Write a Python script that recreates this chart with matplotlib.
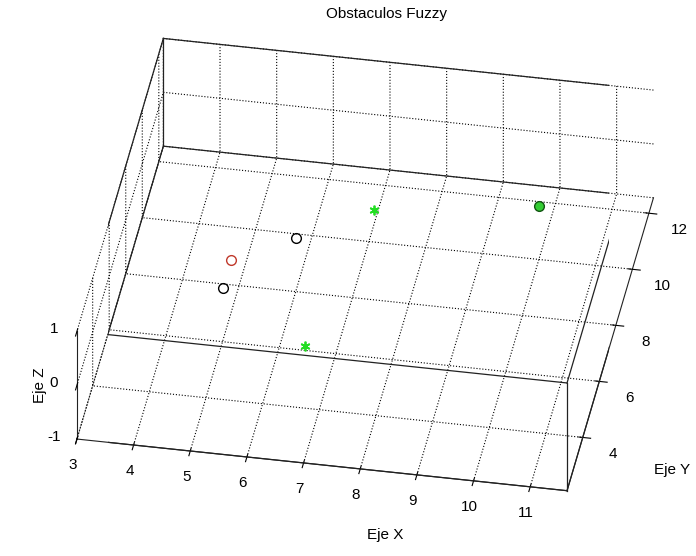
import matplotlib
matplotlib.use("Agg")
import matplotlib.pyplot as plt
from mpl_toolkits.mplot3d import proj3d

plt.rcParams['font.family'] = ['Liberation Sans', 'DejaVu Sans']
plt.rcParams['font.size'] = 11
plt.rcParams['grid.linestyle'] = ':'
plt.rcParams['grid.color'] = 'black'
plt.rcParams['grid.linewidth'] = 0.8

# obstaculos (x, y) en el plano z = 0
obs_negro_x = [5, 6]
obs_negro_y = [6, 8]
obs_rojo_x = [5]
obs_rojo_y = [7]
puntos_x = [7.2, 6.7]
puntos_y = [9.25, 4.3]
meta_x = [10]
meta_y = [10]

xlim = (3, 11.65)
ylim = (2.1, 12.55)
zlim = (-1, 1)
xticks = [3, 4, 5, 6, 7, 8, 9, 10, 11]
yticks = [4, 6, 8, 10, 12]
zticks = [-1, 0, 1]
zticklabels = ['-1', '0', '1']

W, H = 696, 556
fig = plt.figure(figsize=(W / 100, H / 100), dpi=100)
ax = fig.add_axes([0.065, 0.062, 0.9, 0.9], projection='3d', proj_type='ortho')
ax.view_init(elev=36.7, azim=-80)
ax.set_box_aspect((1, 1, 0.27), zoom=1.39)
ax.set_xlim(*xlim)
ax.set_ylim(*ylim)
ax.set_zlim(*zlim)
ax.set_xticks(xticks)
ax.set_yticks(yticks)
ax.set_zticks(zticks)
ax.tick_params(labelsize=11)
ax.tick_params(axis='x', pad=1)
ax.zaxis.set_ticks_position('lower')
# las etiquetas de z se ponen a mano mas abajo
for t in ax.zaxis.get_major_ticks():
    t.label1.set_visible(False)
    t.label2.set_visible(False)

for a in (ax.xaxis, ax.yaxis, ax.zaxis):
    a.set_pane_color((1, 1, 1, 0))
    a.pane.set_edgecolor('none')
    a.line.set_color('#222222')
    a.line.set_linewidth(0.8)
    a.label.set_visible(False)
    a.offsetText.set_visible(False)

# caja
x0, x1 = xlim
y0, y1 = ylim
z0, z1 = zlim
aristas = [
    ((x0, x1), (y0, y0), (z0, z0)), ((x0, x1), (y1, y1), (z0, z0)),
    ((x0, x1), (y0, y0), (z1, z1)), ((x0, x1), (y1, y1), (z1, z1)),
    ((x0, x0), (y0, y1), (z0, z0)), ((x1, x1), (y0, y1), (z0, z0)),
    ((x0, x0), (y0, y1), (z1, z1)), ((x1, x1), (y0, y1), (z1, z1)),
    ((x0, x0), (y0, y0), (z0, z1)), ((x1, x1), (y0, y0), (z0, z1)),
    ((x0, x0), (y1, y1), (z0, z1)), ((x1, x1), (y1, y1), (z0, z1)),
]
for xs, ys, zs in aristas:
    ax.plot(xs, ys, zs, color='#222222', lw=0.9)

ax.plot(obs_negro_x, obs_negro_y, [0] * len(obs_negro_x), 'o', mfc='none', mec='black', ms=7)
ax.plot(obs_rojo_x, obs_rojo_y, [0], 'o', mfc='none', mec='#c0392b', ms=7)
ax.plot(puntos_x, puntos_y, [0, 0], marker=(6, 2, 0), ls='none', color='#22dd22', ms=7, mew=1.3)
ax.plot(meta_x, meta_y, [0], 'o', mfc='#33cc33', mec='#115511', ms=7)

# etiquetas del eje z junto a la arista frontal izquierda
fig.canvas.draw()
M = ax.get_proj()
for z, t in zip(zticks, zticklabels):
    px, py, _ = proj3d.proj_transform(x0, y0, z, M)
    qx, qy = ax.transData.transform((px, py))
    fig.text((qx - 23) / W, (qy + 2) / H, t, ha='center', va='center', fontsize=11)

fig.text(386 / W, 1 - 14 / H, 'Obstaculos Fuzzy', ha='center', va='center')
fig.text(385 / W, 1 - 535 / H, 'Eje X', ha='center', va='center')
fig.text(672 / W, 1 - 470 / H, 'Eje Y', ha='center', va='center')
fig.text(40 / W, 1 - 385 / H, 'Eje Z', ha='center', va='center', rotation=90)

fig.savefig("out.png", dpi=100)
